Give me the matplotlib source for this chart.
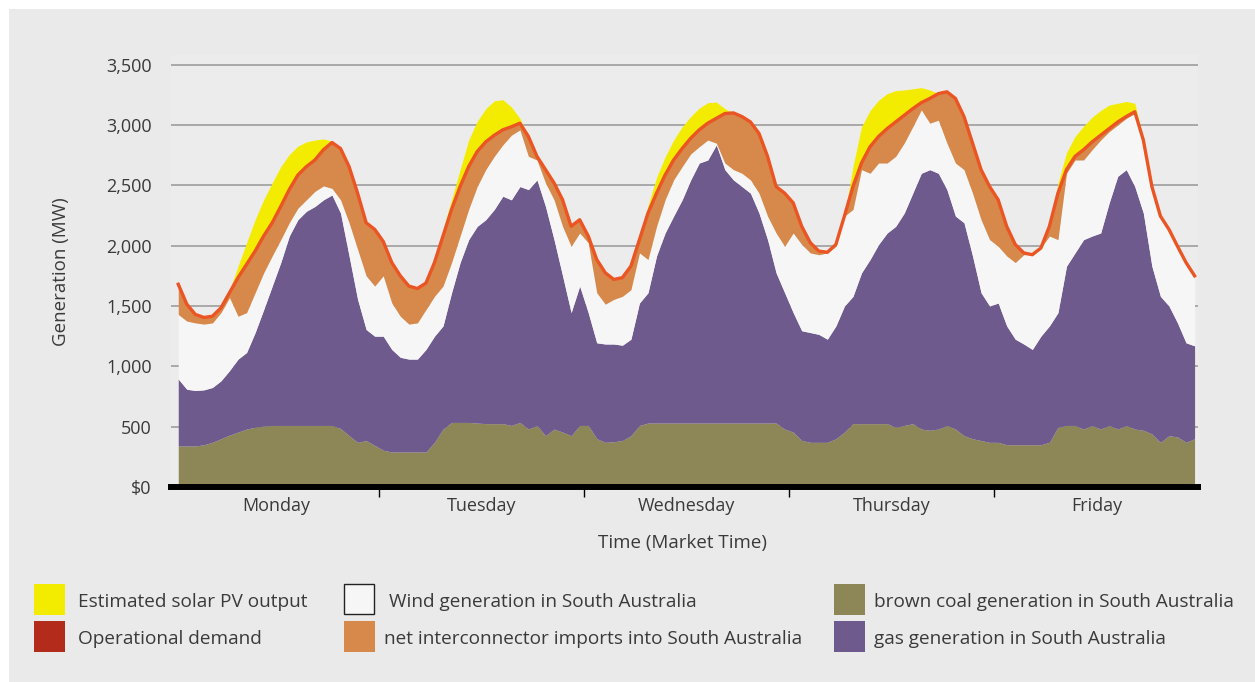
import matplotlib
matplotlib.use("Agg")
import matplotlib.pyplot as plt
import numpy as np
from matplotlib.patches import Rectangle

plt.rcParams['font.family'] = ['Open Sans', 'DejaVu Sans']

# ---------------- data (MW, hourly, Monday 00:00 -> Friday 24:00) ----------------
days = ["Monday", "Tuesday", "Wednesday", "Thursday", "Friday"]
y_ticks = [0, 500, 1000, 1500, 2000, 2500, 3000, 3500]
y_tick_labels = ["\\$0", "500", "1,000", "1,500", "2,000", "2,500", "3,000", "3,500"]

coal = [
    340, 340, 340, 350, 370, 400, 430, 455, 480, 495, 505, 510, 510, 510, 510, 510, 510, 510, 510, 485, 425, 370, 385, 345,
    305, 290, 290, 290, 290, 290, 370, 480, 535, 535, 535, 530, 525, 525, 525, 510, 535, 480, 510, 425, 480, 455, 425, 510,
    510, 400, 370, 375, 385, 425, 510, 530, 530, 530, 530, 530, 530, 530, 530, 530, 530, 530, 530, 530, 530, 530, 530, 480,
    455, 385, 370, 370, 370, 400, 455, 525, 525, 525, 525, 525, 495, 510, 525, 480, 470, 480, 510, 480, 425, 400, 385, 370,
    370, 350, 350, 350, 350, 350, 370, 495, 510, 510, 480, 510, 480, 510, 480, 510, 480, 470, 440, 370, 425, 415, 370, 400]

gas = [
    555, 470, 460, 455, 455, 480, 535, 605, 635, 785, 965, 1155, 1350, 1570, 1705, 1775, 1815, 1870, 1910, 1785, 1490, 1185, 920, 905,
    945, 850, 785, 770, 770, 850, 880, 855, 1075, 1325, 1515, 1630, 1690, 1775, 1885, 1870, 1955, 1985, 2035, 1900, 1570, 1295, 1020, 1155,
    935, 795, 815, 810, 790, 800, 1015, 1080, 1385, 1575, 1715, 1850, 2015, 2155, 2180, 2305, 2100, 2015, 1960, 1905, 1740, 1520, 1245, 1130,
    990, 910, 910, 895, 855, 935, 1045, 1055, 1250, 1360, 1485, 1580, 1665, 1760, 1910, 2120, 2160, 2120, 1955, 1765, 1765, 1515, 1225, 1130,
    1155, 985, 875, 835, 790, 900, 965, 950, 1320, 1430, 1570, 1570, 1625, 1845, 2095, 2120, 2010, 1800, 1390, 1210, 1075, 945, 825, 770]

wind = [
    535, 565, 560, 545, 535, 565, 605, 355, 330, 330, 305, 250, 190, 110, 95, 95, 125, 115, 55, 110, 275, 415, 445, 415,
    500, 385, 340, 290, 300, 330, 330, 330, 250, 220, 250, 330, 415, 440, 425, 535, 470, 275, 165, 195, 330, 410, 550, 440,
    580, 415, 330, 370, 405, 410, 415, 275, 245, 275, 300, 275, 215, 135, 165, 15, 55, 85, 110, 110, 165, 195, 330, 385,
    660, 715, 660, 660, 715, 660, 745, 720, 855, 715, 675, 580, 580, 580, 550, 525, 385, 440, 385, 440, 440, 520, 605, 550,
    470, 580, 635, 740, 785, 730, 745, 605, 770, 770, 660, 715, 770, 590, 425, 425, 605, 605, 660, 665, 635, 635, 665, 580]

imports = [
    250, 140, 70, 55, 55, 40, 40, 320, 400, 345, 305, 275, 275, 275, 275, 275, 260, 300, 380, 425, 465, 465, 440, 470,
    285, 335, 335, 315, 285, 220, 280, 415, 440, 410, 355, 290, 230, 175, 125, 70, 55, 165, 30, 110, 140, 220, 165, 110,
    55, 275, 260, 165, 155, 195, 110, 385, 275, 205, 165, 150, 130, 140, 140, 205, 410, 470, 470, 480, 495, 495, 385, 440,
    250, 150, 85, 30, 5, 15, 0, 190, 55, 220, 220, 285, 285, 230, 150, 60, 205, 220, 425, 535, 440, 415, 415, 440,
    385, 245, 150, 15, 0, 0, 80, 385, 30, 30, 85, 65, 40, 25, 25, 15, 15, 0, 0, 0, 0, 0, 0, 0]

solar = [
    0, 0, 0, 0, 0, 0, 20, 95, 180, 260, 300, 330, 330, 290, 240, 205, 165, 90, 10, 0, 0, 0, 0, 0,
    0, 0, 0, 0, 0, 0, 0, 55, 80, 140, 220, 250, 275, 285, 250, 165, 40, 0, 0, 0, 0, 0, 0, 0,
    0, 0, 0, 0, 0, 0, 0, 60, 130, 150, 165, 180, 180, 180, 170, 135, 40, 0, 0, 0, 0, 0, 0, 0,
    0, 0, 0, 0, 0, 0, 0, 165, 300, 300, 300, 290, 260, 210, 165, 125, 70, 0, 0, 0, 0, 0, 0, 0,
    0, 0, 0, 0, 0, 0, 0, 80, 140, 165, 195, 205, 205, 195, 155, 125, 70, 0, 0, 0, 0, 0, 0, 0]

demand = [
    1680, 1515, 1430, 1405, 1415, 1485, 1610, 1735, 1845, 1955, 2080, 2190, 2325, 2465, 2585, 2655, 2710, 2795, 2855, 2805, 2655, 2435, 2190, 2135,
    2035, 1860, 1750, 1665, 1645, 1690, 1860, 2080, 2300, 2490, 2655, 2780, 2860, 2915, 2960, 2985, 3015, 2905, 2740, 2630, 2520, 2380, 2160, 2215,
    2080, 1885, 1775, 1720, 1735, 1830, 2050, 2270, 2435, 2585, 2710, 2805, 2890, 2960, 3015, 3055, 3095, 3100, 3070, 3025, 2930, 2740, 2490, 2435,
    2355, 2160, 2025, 1955, 1945, 2010, 2245, 2490, 2685, 2820, 2905, 2970, 3025, 3080, 3135, 3185, 3220, 3260, 3275, 3220, 3070, 2850, 2630, 2490,
    2380, 2160, 2010, 1940, 1925, 1980, 2160, 2435, 2630, 2740, 2795, 2860, 2915, 2970, 3025, 3070, 3110, 2875, 2490, 2245, 2135, 1995, 1860, 1750]

legend_labels = [
    ("Estimated solar PV output", "solar"),
    ("Operational demand", "demand_legend"),
    ("Wind generation in South Australia", "wind"),
    ("net interconnector imports into South Australia", "imports"),
    ("brown coal generation in South Australia", "coal"),
    ("gas generation in South Australia", "gas"),
]

# ---------------- styles ----------------
colors = {
    "coal": "#8d8656",
    "gas": "#6f5a8d",
    "wind": "#f6f6f6",
    "imports": "#d6894a",
    "solar": "#f3ec00",
    "demand": "#ea5523",
    "demand_legend": "#b32c1b",
}
text_color = "#3a3a3a"
W, H = 1255, 682

fig = plt.figure(figsize=(W / 100, H / 100), dpi=100, facecolor="white")
fig.patches.append(Rectangle((9 / W, 0), 1 - 9 / W, 1 - 9 / H, transform=fig.transFigure,
                             facecolor="#eaeaea", edgecolor="none", zorder=-10))

ax_left, ax_right, ax_bottom, ax_top = 171, 1198, 487, 55
ax = fig.add_axes([ax_left / W, 1 - ax_bottom / H, (ax_right - ax_left) / W, (ax_bottom - ax_top) / H])
ax.set_facecolor("#ececec")

hours = np.arange(len(demand)) + 0.5
c = np.array(coal, float)
g = np.array(gas, float)
w = np.array(wind, float)
im = np.array(imports, float)
so = np.array(solar, float)
de = np.array(demand, float)

l1 = c
l2 = l1 + g
l3 = l2 + w
l4 = l3 + im
l5 = l4 + so
ax.fill_between(hours, 0, l1, color=colors["coal"], lw=0, zorder=2)
ax.fill_between(hours, l1, l2, color=colors["gas"], lw=0, zorder=2)
ax.fill_between(hours, l2, l3, color=colors["wind"], lw=0, zorder=2)
ax.fill_between(hours, l3, l4, color=colors["imports"], lw=0, zorder=2)
ax.fill_between(hours, l4, l5, color=colors["solar"], lw=0, zorder=2)
ax.plot(hours, de, color=colors["demand"], lw=2.4, zorder=4, solid_joinstyle="round")

ax.set_xlim(-0.35, 119.9)
ax.set_ylim(0, 3580)
ax.set_yticks(y_ticks)
ax.set_yticklabels(y_tick_labels)
ax.yaxis.grid(True, color="#a3a3a3", lw=1.3)
ax.set_axisbelow(True)

ax.set_xticks([12 + 24 * i for i in range(len(days))])
ax.set_xticklabels(days)
ax.set_xticks([24, 48, 72, 96], minor=True)
ax.tick_params(axis="x", which="major", length=0, pad=7, labelsize=13, labelcolor=text_color)
ax.tick_params(axis="x", which="minor", length=7.5, width=1.0, color="black", direction="out")
ax.tick_params(axis="y", length=0, pad=14, labelsize=13, labelcolor=text_color)

for s in ["top", "right", "left"]:
    ax.spines[s].set_visible(False)
ax.spines["bottom"].set_linewidth(4.3)
ax.spines["bottom"].set_color("black")
ax.spines["bottom"].set_zorder(5)

renderer = fig.canvas.get_renderer()


def fitted(t, target):
    wpx = t.get_window_extent(renderer=renderer).width
    return t.get_fontsize() * target / wpx


fig.text(61 / W, 1 - 272 / H, "Generation (MW)", rotation=90, ha="center", va="center",
         fontsize=13.5, color=text_color)
fig.text(683 / W, 1 - 543 / H, "Time (Market Time)", ha="center", va="center",
         fontsize=13.5, color=text_color)

# legend
patch_x = [34, 34, 344, 344, 834, 834]
text_x = [78, 78, 389, 384, 874, 874]
row_y = [584, 621, 584, 621, 584, 621]
targets = [228, 183, 307, 418, 360, 292]
texts = []
for (lab, key), px, tx, ry in zip(legend_labels, patch_x, text_x, row_y):
    if key == "wind":
        rect = Rectangle((px / W, 1 - (ry + 30) / H), 30 / W, 30 / H, transform=fig.transFigure,
                         facecolor="#f6f6f6", edgecolor="#222222", lw=1.0)
    else:
        rect = Rectangle((px / W, 1 - (ry + 31) / H), 31 / W, 31 / H, transform=fig.transFigure,
                         facecolor=colors[key], edgecolor="none")
    fig.patches.append(rect)
    t = fig.text(tx / W, 1 - (ry + 18) / H, lab, ha="left", va="center", fontsize=13, color=text_color)
    texts.append(t)
sizes = [fitted(t, tg) for t, tg in zip(texts, targets)]
common = float(np.median(sizes))
for t in texts:
    t.set_fontsize(common)

fig.savefig("out.png", dpi=100, facecolor="white")
